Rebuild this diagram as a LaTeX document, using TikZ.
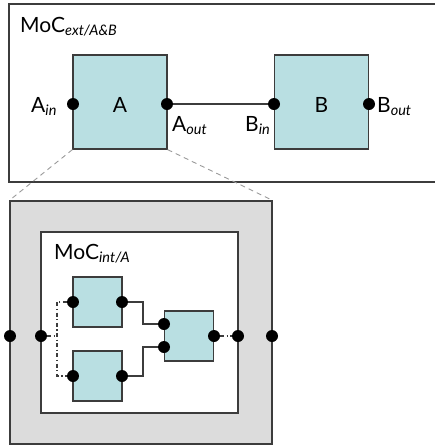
\documentclass[tikz,border=0pt]{standalone}
\usepackage{fontspec}
\setmainfont{Lato}
\definecolor{boxc}{HTML}{B9DFE2}
\definecolor{grayc}{HTML}{DCDCDC}
\definecolor{linec}{HTML}{3C3C3C}
\definecolor{zoomc}{HTML}{9A9A9A}
\newcommand\sbs[1]{\raisebox{-0.35ex}{\fontsize{14.5}{16}\selectfont\itshape #1}}
\begin{document}
\begin{tikzpicture}[x=1pt,y=-1pt,
  frame/.style={draw=linec, line width=1.2pt, inner sep=0},
  blk/.style={draw=linec, fill=boxc, line width=1.2pt, inner sep=0, minimum width=94pt, minimum height=94pt},
  sblk/.style={draw=linec, fill=boxc, line width=1.2pt, inner sep=0, minimum width=49pt, minimum height=50pt},
  port/.style={circle, fill=black, inner sep=0, minimum size=12pt},
  lbl/.style={font=\fontsize{21}{24}\selectfont, inner sep=0},
  wire/.style={draw=linec, line width=1.2pt},
  dd/.style={draw=linec, line width=1.2pt, dash pattern=on 4pt off 2.5pt on 1.2pt off 2.5pt},
  zoomline/.style={draw=zoomc, line width=0.9pt, dash pattern=on 5pt off 4pt}]
\useasboundingbox (0,0) rectangle (435,445);
% top frame
\node[frame, minimum width=430pt, minimum height=178pt] (ext) at (224,93) {};
\node[lbl, anchor=base west] (extl) at (20,32) {MoC\sbs{ext/A\&B}};
\node[blk] (A) at (120,102) {};
\node[blk] (B) at (321.5,102) {};
\node[lbl, anchor=base] (Al) at (120,112) {A};
\node[lbl, anchor=base] (Bl) at (321.5,112) {B};
\node[port] (ain) at (73,104) {};
\node[port] (aout) at (167,104) {};
\node[port] (bin) at (274,104) {};
\node[port] (bout) at (369,104) {};
\draw[wire] (aout) -- (bin);
\node[lbl, anchor=base west] (ainl) at (31,112) {A\sbs{in}};
\node[lbl, anchor=base west] (aoutl) at (172,131) {A\sbs{out}};
\node[lbl, anchor=base west] (binl) at (245,131) {B\sbs{in}};
\node[lbl, anchor=base west] (boutl) at (377,112) {B\sbs{out}};
% zoomed view
\node[frame, fill=grayc, minimum width=262pt, minimum height=243pt] (za) at (141,322.5) {};
\draw[zoomline] (A.south west) -- (za.north west);
\draw[zoomline] (A.south east) -- (za.north east);
\node[frame, fill=white, minimum width=197pt, minimum height=181pt] (zi) at (139.5,322.5) {};
\node[lbl, anchor=base west] (intl) at (54,259) {MoC\sbs{int/A}};
\node[sblk] (s1) at (97.5,302) {};
\node[sblk] (s2) at (97.5,376) {};
\node[sblk] (s3) at (189,336) {};
\node[port] (oL) at (10,336) {};
\node[port] (iL) at (41,336) {};
\node[port] (iR) at (238,336) {};
\node[port] (oR) at (272,336) {};
\node[port] (s1L) at (73,302) {};
\node[port] (s1R) at (122,302) {};
\node[port] (s2L) at (73,376) {};
\node[port] (s2R) at (122,376) {};
\node[port] (s3a) at (164,324) {};
\node[port] (s3b) at (164,347) {};
\node[port] (s3R) at (214,336) {};
\draw[wire] (s1R) -- ++(21,0) |- (s3a);
\draw[wire] (s2R) -- ++(21,0) |- (s3b);
\draw[dd] (s1L) -- ++(-16,0) |- (s2L);
\draw[dd] (iL) -- ++(16,0);
\draw[dd] (s3R) -- (iR);
\end{tikzpicture}
\end{document}
